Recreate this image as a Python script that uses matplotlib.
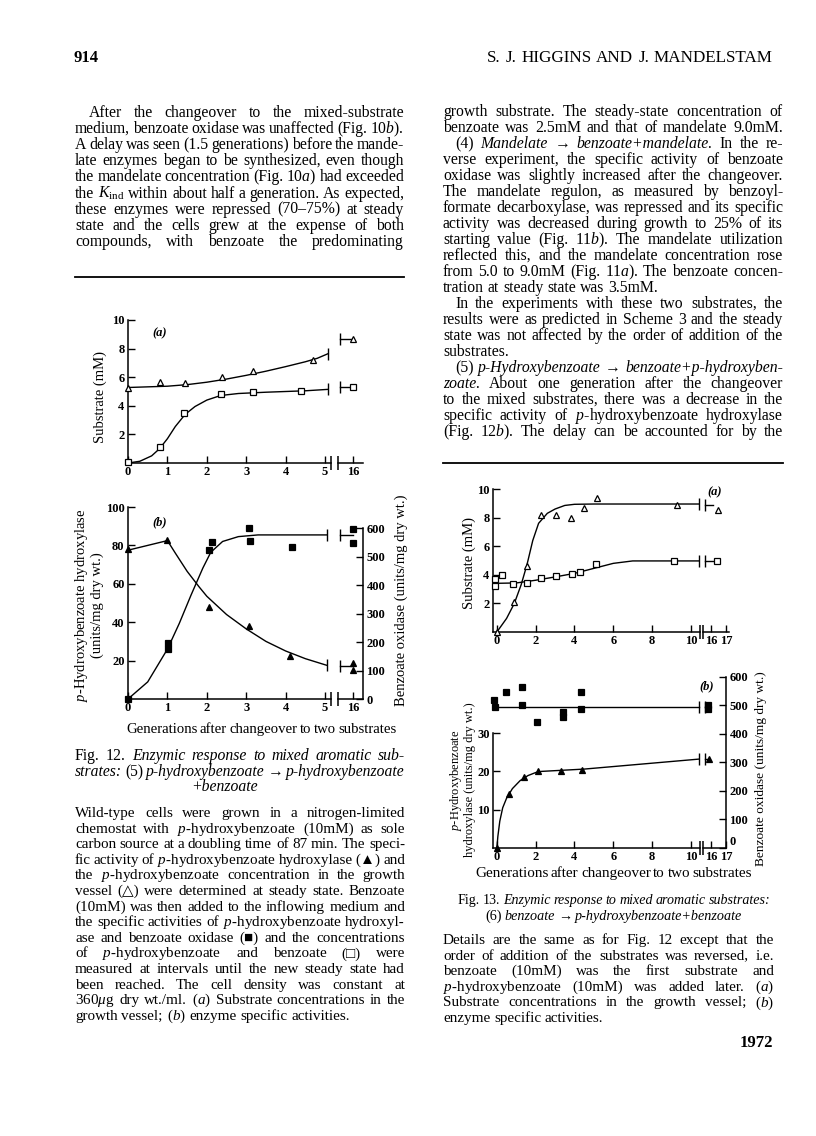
import matplotlib
matplotlib.use('Agg')
import matplotlib.pyplot as plt
from matplotlib.lines import Line2D

W, H = 816, 1136

# ---- Fig. 12 data (generations) ----
f12a_tri_x = [0, 0.8, 1.45, 2.38, 3.16, 4.69]
f12a_tri_y = [5.27, 5.66, 5.62, 6.03, 6.43, 7.2]
f12a_tri_curve_x = [0, 1, 1.5, 2, 2.5, 3, 3.5, 4, 4.5, 4.8, 5.08]
f12a_tri_curve_y = [5.28, 5.37, 5.48, 5.65, 5.87, 6.13, 6.42, 6.74, 7.08, 7.32, 7.65]
f12a_tri_ss = [8.65]
f12a_sq_x = [0, 0.8, 1.42, 2.35, 3.16, 4.38]
f12a_sq_y = [0.1, 1.1, 3.5, 4.8, 4.98, 5.03]
f12a_sq_curve_x = [0, 0.3, 0.6, 0.8, 1.0, 1.2, 1.45, 1.7, 2.0, 2.35, 2.8, 3.5, 4.5, 5.08]
f12a_sq_curve_y = [0, 0.12, 0.5, 1.0, 1.7, 2.55, 3.4, 3.95, 4.4, 4.72, 4.86, 4.95, 5.05, 5.15]
f12a_sq_ss = [5.28]
f12_ss_x = 16

f12b_tri_x = [0, 1.0, 2.06, 3.07, 4.1]
f12b_tri_y = [78, 83, 48, 38, 22.5]
f12b_tri_curve_x = [0, 1, 1.2, 1.5, 1.8, 2, 2.5, 3, 3.5, 4, 4.5, 5.05]
f12b_tri_curve_y = [77.5, 82.5, 76, 66.5, 58.5, 53.5, 44, 36.5, 30, 25, 21, 17.5]
f12b_tri_ss = [18.7, 15.2]
f12b_tri_ss_line = 17
f12b_sq_x = [0, 1.02, 1.02, 2.06, 2.14, 3.08, 3.1, 4.17]
f12b_sq_y = [0, 195, 174, 523, 552, 602, 556, 533]
f12b_sq_curve_x = [0, 0.5, 1, 1.3, 1.6, 1.9, 2.1, 2.4, 2.8, 3.3, 5.05]
f12b_sq_curve_y = [0, 60, 175, 265, 365, 460, 515, 553, 570, 576, 576]
f12b_sq_ss = [597, 549]
f12b_sq_ss_line = 576

# ---- Fig. 13 data ----
f13a_tri_x = [0, 0.88, 1.56, 2.25, 3.04, 3.8, 4.48, 5.14, 9.26]
f13a_tri_y = [0, 2.1, 4.6, 8.2, 8.2, 8.0, 8.7, 9.4, 8.9]
f13a_tri_curve_x = [0, 0.5, 0.9, 1.25, 1.55, 1.85, 2.15, 2.6, 3, 3.5, 4, 5, 10.4]
f13a_tri_curve_y = [0, 0.95, 2.0, 3.3, 4.7, 6.4, 7.6, 8.3, 8.6, 8.85, 8.93, 8.95, 8.95]
f13a_tri_ss_x = 16.45
f13a_tri_ss = [8.55]
f13a_tri_ss_line = 8.9
f13a_sq_x = [-0.1, -0.1, 0.24, 0.84, 1.56, 2.25, 3.07, 3.85, 4.28, 5.1, 9.14]
f13a_sq_y = [3.7, 3.2, 4.0, 3.33, 3.45, 3.75, 3.9, 4.05, 4.2, 4.75, 4.97]
f13a_sq_curve_x = [-0.2, 1, 2, 3, 4, 5, 6, 7, 10.4]
f13a_sq_curve_y = [3.4, 3.43, 3.62, 3.85, 4.1, 4.45, 4.8, 4.97, 4.97]
f13a_sq_ss_x = 16.4
f13a_sq_ss = [4.97]

f13b_tri_x = [0, 0.63, 1.39, 2.13, 3.33, 4.41]
f13b_tri_y = [0, 14.1, 18.6, 20.0, 20.0, 20.4]
f13b_tri_curve_x = [0, 0.05, 0.15, 0.3, 0.5, 0.8, 1.2, 1.6, 2.0, 2.3, 4.5, 10.4]
f13b_tri_curve_y = [0, 3, 7, 10.5, 13, 15.5, 17.6, 18.9, 19.7, 20.0, 20.6, 23.2]
f13b_tri_ss_x = 15.85
f13b_tri_ss = [23.3]
f13b_sq_x = [-0.15, -0.1, 0.46, 1.27, 1.32, 2.08, 3.39, 3.39, 4.33, 4.33]
f13b_sq_y = [519, 493, 546, 566, 503, 443, 476, 460, 549, 487]
f13b_sq_curve_x = [-0.2, 10.4]
f13b_sq_curve_y = [496, 496]
f13b_sq_ss_x = 15.8
f13b_sq_ss = [503, 487]

# ---- page text ----
left_top = [
    "After the changeover to the mixed-substrate",
    "medium, benzoate oxidase was unaffected (Fig. 10$\\it{b}$).",
    "A delay was seen (1.5 generations) before the mande-",
    "late enzymes began to be synthesized, even though",
    "the mandelate concentration (Fig. 10$\\it{a}$) had exceeded",
    "the $K_{\\mathrm{ind}}$ within about half a generation. As expected,",
    "these enzymes were repressed (70–75%) at steady",
    "state and the cells grew at the expense of both",
    "compounds, with benzoate the predominating",
]
right_top = [
    "growth substrate. The steady-state concentration of",
    "benzoate was 2.5mM and that of mandelate 9.0mM.",
    "(4) ~Mandelate → ~benzoate+mandelate. In the re-",
    "verse experiment, the specific activity of benzoate",
    "oxidase was slightly increased after the changeover.",
    "The mandelate regulon, as measured by benzoyl-",
    "formate decarboxylase, was repressed and its specific",
    "activity was decreased during growth to 25% of its",
    "starting value (Fig. 11$\\it{b}$). The mandelate utilization",
    "reflected this, and the mandelate concentration rose",
    "from 5.0 to 9.0mM (Fig. 11$\\it{a}$). The benzoate concen-",
    "tration at steady state was 3.5mM.",
    "In the experiments with these two substrates, the",
    "results were as predicted in Scheme 3 and the steady",
    "state was not affected by the order of addition of the",
    "substrates.",
    "(5) ~p-Hydroxybenzoate → ~benzoate+p-hydroxyben-",
    "~zoate. About one generation after the changeover",
    "to the mixed substrates, there was a decrease in the",
    "specific activity of $\\it{p}$-hydroxybenzoate hydroxylase",
    "(Fig. 12$\\it{b}$). The delay can be accounted for by the",
]
right_indent = {2, 12, 16}
right_last = {11, 15}

cap12 = [
    "Fig. 12. ~Enzymic ~response ~to ~mixed ~aromatic ~sub-",
    "~strates: (5) ~p-hydroxybenzoate → ~p-hydroxybenzoate",
]
legend12 = [
    "Wild-type cells were grown in a nitrogen-limited",
    "chemostat with $\\it{p}$-hydroxybenzoate (10mM) as sole",
    "carbon source at a doubling time of 87 min. The speci-",
    "fic activity of $\\it{p}$-hydroxybenzoate hydroxylase (▲) and",
    "the $\\it{p}$-hydroxybenzoate concentration in the growth",
    "vessel (△) were determined at steady state. Benzoate",
    "(10mM) was then added to the inflowing medium and",
    "the specific activities of $\\it{p}$-hydroxybenzoate hydroxyl-",
    "ase and benzoate oxidase (■) and the concentrations",
    "of $\\it{p}$-hydroxybenzoate and benzoate (□) were",
    "measured at intervals until the new steady state had",
    "been reached. The cell density was constant at",
    "360$\\mu$g dry wt./ml. ($\\it{a}$) Substrate concentrations in the",
    "growth vessel; ($\\it{b}$) enzyme specific activities.",
]
legend13 = [
    "Details are the same as for Fig. 12 except that the",
    "order of addition of the substrates was reversed, i.e.",
    "benzoate (10mM) was the first substrate and",
    "$\\it{p}$-hydroxybenzoate (10mM) was added later. ($\\it{a}$)",
    "Substrate concentrations in the growth vessel; ($\\it{b}$)",
    "enzyme specific activities.",
]

plt.rcParams['font.family'] = ['Liberation Serif', 'DejaVu Serif', 'DejaVu Sans']
plt.rcParams['mathtext.fontset'] = 'custom'
plt.rcParams['mathtext.rm'] = 'Liberation Serif'
plt.rcParams['mathtext.it'] = 'Liberation Serif:italic'
plt.rcParams['mathtext.bf'] = 'Liberation Serif:bold'

fig = plt.figure(figsize=(W / 100, H / 100), dpi=100)
fig.patch.set_facecolor('white')
renderer = fig.canvas.get_renderer()

BODY = 11.3
LEG = 10.9


def fx(x):
    return x / W


def fy(y):
    return 1 - y / H


def line_of_words(x0, x1, y, s, size, indent=0, justify=True, align='left', weight='normal'):
    # y is the pixel position of the text middle; words are placed one by one
    items = []
    for w in s.split(' '):
        st = 'normal'
        if w.startswith('~'):
            st, w = 'italic', w[1:]
        items.append(fig.text(0, fy(y + 4), w, fontsize=size, style=st,
                              weight=weight, va='baseline'))
    avail = x1 - x0 - indent
    n = len(items)
    ws = [t.get_window_extent(renderer).width for t in items]
    min_gap = 2.6
    if justify and n > 1 and sum(ws) + min_gap * (n - 1) > avail:
        k = (avail - min_gap * (n - 1)) / sum(ws)
        for t in items:
            t.set_fontsize(size * k)
        ws = [t.get_window_extent(renderer).width for t in items]
    if justify and n > 1:
        gap = (avail - sum(ws)) / (n - 1)
    else:
        gap = size * 100 / 72 * 0.25
    total = sum(ws) + gap * (n - 1)
    if align == 'center':
        x = (x0 + x1) / 2 - total / 2
    elif align == 'right':
        x = x1 - total
    else:
        x = x0 + indent
    for t, w in zip(items, ws):
        t.set_x(fx(x))
        x += w + gap


def rule(x0, x1, y):
    fig.add_artist(Line2D([fx(x0), fx(x1)], [fy(y), fy(y)], color='k', lw=1.3))


def vlabel(x, y, s, size=10.5):
    fig.text(fx(x), fy(y), s, rotation=90, ha='center', va='center', fontsize=size)


def panel(l, t, r, b, xlim, ylim):
    ax = fig.add_axes([l / W, 1 - b / H, (r - l) / W, (b - t) / H])
    ax.set_xlim(*xlim)
    ax.set_ylim(*ylim)
    ax.patch.set_visible(False)
    for s in ax.spines.values():
        s.set_visible(False)
        s.set_linewidth(1.1)
    ax.spines['bottom'].set_visible(True)
    ax.tick_params(direction='in', length=5, width=1, pad=2.5, labelsize=9)
    ax.set_yticks([])
    return ax


def twin(ax, ylim, ticks=None, lift_zero=False):
    tw = ax.twinx()
    tw.set_ylim(*ylim)
    tw.patch.set_visible(False)
    for s in tw.spines.values():
        s.set_visible(False)
        s.set_linewidth(1.1)
    tw.tick_params(direction='in', length=5, width=1, pad=2.5, labelsize=9)
    if ticks is None:
        tw.set_yticks([])
    else:
        tw.spines['right'].set_visible(True)
        tw.spines['right'].set_bounds(ticks[0], ticks[-1])
        tw.set_yticks(ticks, [str(v) for v in ticks], fontweight='bold')
        if lift_zero:
            # the zero sits just above the axis line, clear of the x labels
            tw.get_yticklabels()[0].set_verticalalignment('bottom')
    return tw


def xt(ax, ticks):
    ax.set_xticks(ticks, [str(v) for v in ticks], fontweight='bold')


def yt(ax, ticks, top=None):
    ax.spines['left'].set_visible(True)
    if top is not None:
        ax.spines['left'].set_bounds(0, top)
    ax.set_yticks(ticks, [str(v) for v in ticks], fontweight='bold')


def pts(ax, x, y, marker, filled, ms=5):
    ax.plot(x, y, ls='none', marker=marker, ms=ms, mfc='k' if filled else 'w',
            mec='k', mew=0.9, clip_on=False, zorder=4)


def curve(ax, x, y, end_mark=True):
    ax.plot(x, y, color='k', lw=1, clip_on=False, zorder=3)
    if end_mark:
        ax.plot(x[-1:], y[-1:], marker='|', ms=8, mew=1, color='k', clip_on=False)


def ss_line(ax, x_end, level):
    x0 = ax.get_xlim()[0] + 0.1
    ax.plot([x0, x_end], [level, level], color='k', lw=1, clip_on=False, zorder=3)
    ax.plot([x0], [level], marker='|', ms=8, mew=1, color='k', clip_on=False)


def axis_break(ax, side):
    x = ax.get_xlim()[1] if side == 'right' else ax.get_xlim()[0]
    ax.plot([x], [ax.get_ylim()[0]], marker='|', ms=10, mew=1.1, color='k', clip_on=False)


# ---------------- Fig. 12 (a) ----------------
a = panel(128, 320, 331, 463, (0, 5.15), (0, 10))
yt(a, [2, 4, 6, 8, 10])
xt(a, [0, 1, 2, 3, 4, 5])
curve(a, f12a_tri_curve_x, f12a_tri_curve_y)
curve(a, f12a_sq_curve_x, f12a_sq_curve_y)
pts(a, f12a_tri_x, f12a_tri_y, '^', False)
pts(a, f12a_sq_x, f12a_sq_y, 's', False, 4.5)
axis_break(a, 'right')
s = panel(338, 320, 363, 463, (15.25, 16.5), (0, 10))
xt(s, [16])
ss_line(s, f12_ss_x, f12a_tri_ss[0])
ss_line(s, f12_ss_x, f12a_sq_ss[0])
pts(s, [f12_ss_x] * len(f12a_tri_ss), f12a_tri_ss, '^', False)
pts(s, [f12_ss_x] * len(f12a_sq_ss), f12a_sq_ss, 's', False, 4.5)
axis_break(s, 'left')
fig.text(fx(152), fy(333), '(a)', style='italic', weight='bold', fontsize=9, va='center')
vlabel(100, 397, 'Substrate (mM)')

# ---------------- Fig. 12 (b) ----------------
b = panel(128, 507, 331, 699, (0, 5.15), (0, 100))
yt(b, [20, 40, 60, 80, 100])
xt(b, [0, 1, 2, 3, 4, 5])
b2 = twin(b, (0, 674))
curve(b, f12b_tri_curve_x, f12b_tri_curve_y)
curve(b2, f12b_sq_curve_x, f12b_sq_curve_y)
pts(b, f12b_tri_x, f12b_tri_y, '^', True)
pts(b2, f12b_sq_x, f12b_sq_y, 's', True)
axis_break(b, 'right')
s = panel(338, 507, 363, 699, (15.25, 16.5), (0, 100))
xt(s, [16])
s2 = twin(s, (0, 674), [0, 100, 200, 300, 400, 500, 600])
ss_line(s, f12_ss_x, f12b_tri_ss_line)
ss_line(s2, f12_ss_x, f12b_sq_ss_line)
pts(s, [f12_ss_x] * len(f12b_tri_ss), f12b_tri_ss, '^', True)
pts(s2, [f12_ss_x] * len(f12b_sq_ss), f12b_sq_ss, 's', True)
axis_break(s, 'left')
fig.text(fx(152), fy(522), '(b)', style='italic', weight='bold', fontsize=9, va='center')
vlabel(81, 605, '$\\it{p}$-Hydroxybenzoate hydroxylase')
vlabel(97, 605, '(units/mg dry wt.)')
vlabel(401, 600, 'Benzoate oxidase (units/mg dry wt.)')

# ---------------- Fig. 13 (a) ----------------
a = panel(493, 489, 700, 632, (-0.2, 10.47), (0, 10))
yt(a, [2, 4, 6, 8, 10])
xt(a, [0, 2, 4, 6, 8, 10])
curve(a, f13a_tri_curve_x, f13a_tri_curve_y)
curve(a, f13a_sq_curve_x, f13a_sq_curve_y)
pts(a, f13a_tri_x, f13a_tri_y, '^', False)
pts(a, f13a_sq_x, f13a_sq_y, 's', False, 4.5)
axis_break(a, 'right')
s = panel(703, 489, 729, 632, (15.47, 17.2), (0, 10))
xt(s, [16, 17])
ss_line(s, 16.15, f13a_tri_ss_line)
ss_line(s, f13a_sq_ss_x, f13a_sq_ss[0])
pts(s, [f13a_tri_ss_x], f13a_tri_ss, '^', False)
pts(s, [f13a_sq_ss_x], f13a_sq_ss, 's', False, 4.5)
axis_break(s, 'left')
fig.text(fx(707), fy(492), '(a)', style='italic', weight='bold', fontsize=9, va='center')
vlabel(469, 563, 'Substrate (mM)')

# ---------------- Fig. 13 (b) ----------------
b = panel(493, 676, 700, 848, (-0.2, 10.47), (0, 44.9))
yt(b, [10, 20, 30], top=30)
xt(b, [0, 2, 4, 6, 8, 10])
b2 = twin(b, (0, 603.5))
curve(b, f13b_tri_curve_x, f13b_tri_curve_y)
curve(b2, f13b_sq_curve_x, f13b_sq_curve_y)
pts(b, f13b_tri_x, f13b_tri_y, '^', True)
pts(b2, f13b_sq_x, f13b_sq_y, 's', True)
axis_break(b, 'right')
s = panel(703, 676, 726, 848, (15.47, 17.0), (0, 44.9))
xt(s, [16, 17])
s2 = twin(s, (0, 603.5), [0, 100, 200, 300, 400, 500, 600], lift_zero=True)
ss_line(s, f13b_tri_ss_x, f13b_tri_ss[0])
ss_line(s2, f13b_sq_ss_x, f13b_sq_curve_y[-1])
pts(s, [f13b_tri_ss_x], f13b_tri_ss, '^', True)
pts(s2, [f13b_sq_ss_x] * len(f13b_sq_ss), f13b_sq_ss, 's', True)
axis_break(s, 'left')
fig.text(fx(699), fy(686), '(b)', style='italic', weight='bold', fontsize=9, va='center')
vlabel(456, 780, '$\\it{p}$-Hydroxybenzoate', 9)
vlabel(470, 780, 'hydroxylase (units/mg dry wt.)', 9)
vlabel(761, 769, 'Benzoate oxidase (units/mg dry wt.)', 9.6)

# ---------------- page text ----------------
fig.text(fx(74), fy(58 + 4), '914', fontsize=12, weight='bold', va='baseline')
line_of_words(487, 773, 58, 'S. J. HIGGINS AND J. MANDELSTAM', 12.3)

for i, ln in enumerate(left_top):
    line_of_words(75, 404, 113 + 16.1 * i, ln, BODY, indent=14 if i == 0 else 0)
rule(75, 404, 277)

for i, ln in enumerate(right_top):
    line_of_words(443, 783, 112 + 16 * i, ln, BODY,
                  indent=12 if i in right_indent else 0,
                  justify=i not in right_last)
rule(443, 783, 463)

line_of_words(126, 397, 729, 'Generations after changeover to two substrates', 11)
for i, ln in enumerate(cap12):
    line_of_words(75, 405, 756 + 16 * i, ln, BODY)
line_of_words(75, 375, 787, '~+benzoate', BODY, justify=False, align='center')
for i, ln in enumerate(legend12):
    line_of_words(75, 405, 813 + 15.6 * i, ln, LEG, justify=i != len(legend12) - 1)

line_of_words(475, 752, 873, 'Generations after changeover to two substrates', 11)
line_of_words(458, 770, 900, 'Fig. 13. ~Enzymic ~response ~to ~mixed ~aromatic ~substrates:', BODY)
line_of_words(485, 742, 916, '(6) ~benzoate → ~p-hydroxybenzoate+benzoate', BODY)
for i, ln in enumerate(legend13):
    line_of_words(443, 774, 940 + 15.6 * i, ln, LEG, justify=i != len(legend13) - 1)
fig.text(fx(773), fy(1043 + 4), '1972', fontsize=12, weight='bold', va='baseline', ha='right')

fig.savefig('out.png', dpi=100, facecolor='white')
